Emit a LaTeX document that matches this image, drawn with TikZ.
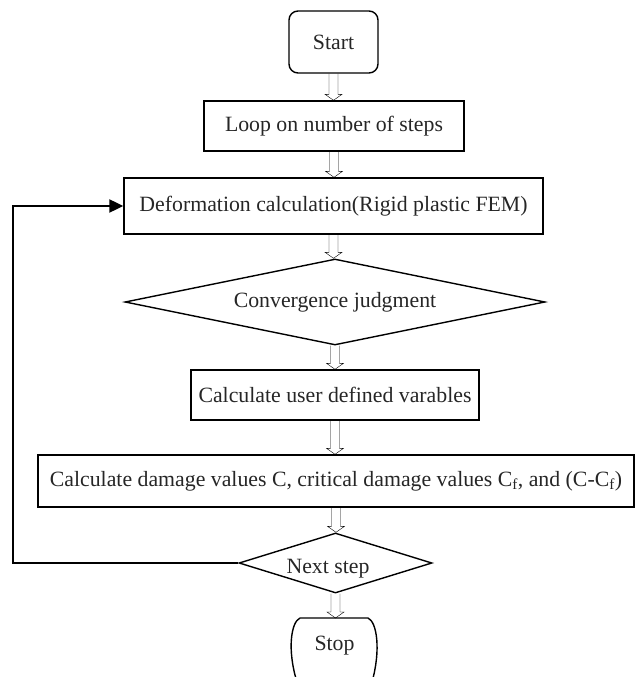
\documentclass[tikz,border=0pt]{standalone}
\usepackage{fontspec}
\setmainfont{Liberation Serif}
\usetikzlibrary{shapes.geometric,arrows.meta,calc}
\begin{document}
\begin{tikzpicture}[x=1pt,y=-1pt,
  every node/.style={font=\fontsize{21.8}{26}\selectfont, text=black!85},
  box/.style={draw, line width=1.4pt, inner sep=0pt},
  dia/.style={draw, diamond, line width=1.4pt, inner sep=0pt},
  blockarrow/.style={draw, line width=1.5pt, to path={let \p1=(\tikztostart), \p2=(\tikztotarget) in
     (\x1-4.5pt,\y1) -- (\x1-4.5pt,\y2+6pt) -- (\x1-8.5pt,\y2+6pt) -- (\x1,\y2) -- (\x1+8.5pt,\y2+6pt) -- (\x1+4.5pt,\y2+6pt) -- (\x1+4.5pt,\y1)}},
  loopline/.style={draw, line width=2.2pt, -{Triangle[length=14pt,width=13pt]}}
]
\useasboundingbox (0,0) rectangle (638,677);
\node[box, rounded corners=9pt, minimum width=89pt, minimum height=62pt] (start) at (333.5,42) {Start};
\node[box, minimum width=260pt, minimum height=50pt] (loop) at (334,126) {Loop on number of steps};
\node[box, minimum width=419pt, minimum height=56pt] (deform) at (333.5,206) {Deformation calculation(Rigid plastic FEM)};
\node[dia, minimum width=420pt, minimum height=86pt, shape aspect=4.9] (conv) at (335,302) {Convergence judgment};
\node[box, minimum width=288pt, minimum height=50pt] (user) at (335,395) {Calculate user defined varables};
\node[box, minimum width=596pt, minimum height=52pt] (damage) at (336,481) {Calculate damage values C, critical damage values C\textsubscript{f}, and (C-C\textsubscript{f})};
\node[dia, minimum width=193pt, minimum height=60pt, shape aspect=3.2] (next) at (335.5,563) {};
\node (nexttxt) at (328,569) {Next step};
\node (stop) at (334.5,646) {Stop};
\draw[line width=1.4pt] (300,618) -- (368,618) .. controls (377,622) and (381,650) .. (372,682);
\draw[line width=1.4pt] (300,618) .. controls (291,622) and (287,650) .. (297,682);
\coordinate (lp) at (13,563);
\draw (start.south) to[blockarrow] ($(loop.north)+(-0.5,0)$);
\draw (loop.south) to[blockarrow] (deform.north);
\draw (deform.south) to[blockarrow] (conv.north);
\draw (conv.south) to[blockarrow] (user.north);
\draw (user.south) to[blockarrow] (damage.north);
\draw (damage.south) to[blockarrow] (next.north);
\draw (next.south) to[blockarrow] (stop.north |- 0,618);
\draw[loopline] (next.west) -- (lp) |- (deform.west);
\end{tikzpicture}
\end{document}
